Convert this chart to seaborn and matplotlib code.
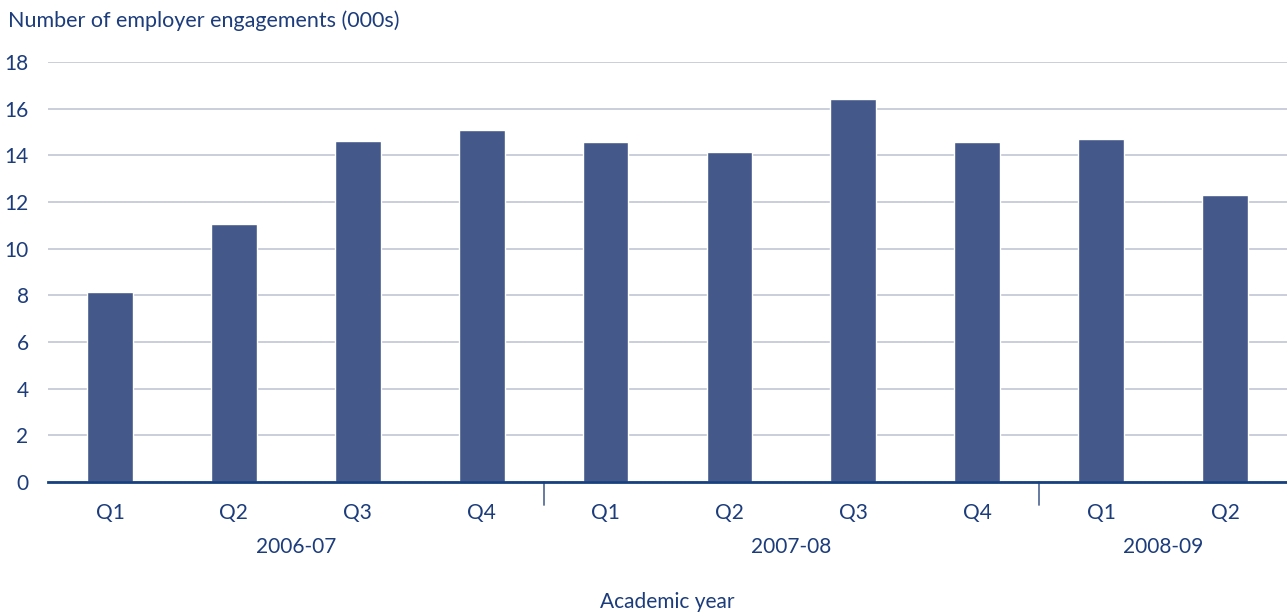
import matplotlib
matplotlib.use("Agg")
import matplotlib.pyplot as plt
import seaborn as sns
import pandas as pd

# Quarterly employer engagements (thousands) by academic year
years = ["2006-07", "2007-08", "2008-09"]
quarters = ["Q1", "Q2", "Q3", "Q4", "Q1", "Q2", "Q3", "Q4", "Q1", "Q2"]
year_of_bar = ["2006-07"] * 4 + ["2007-08"] * 4 + ["2008-09"] * 2
engagements = [8.15, 11.05, 14.6, 15.1, 14.55, 14.15, 16.43, 14.55, 14.68, 12.3]
y_ticks = [0, 2, 4, 6, 8, 10, 12, 14, 16, 18]

BAR = "#44588a"
TEXT = "#1c3c7c"
AXIS = "#17407f"
GRID = "#c6c9d8"

sns.set_theme(style="white")
plt.rcParams["font.family"] = ["Lato", "DejaVu Sans"]

df = pd.DataFrame({
    "period": [f"{y} {q}" for y, q in zip(year_of_bar, quarters)],
    "quarter": quarters,
    "year": year_of_bar,
    "value": engagements,
})

fig = plt.figure(figsize=(12.87, 6.12), dpi=100)
ax = fig.add_axes([0.0373, 0.2124, 0.9627, 0.6863])

sns.barplot(data=df, x="period", y="value", order=list(df["period"]),
            color=BAR, saturation=1, width=0.37, ax=ax, zorder=3)

ax.set_ylim(0, 18)
ax.set_xlim(-0.5, len(df) - 0.5)
ax.set_yticks(y_ticks)
ax.set_yticklabels([str(t) for t in y_ticks], color=TEXT, fontsize=15)
ax.yaxis.grid(True, color=GRID, linewidth=1.3, zorder=0)
ax.set_axisbelow(True)

ax.set_xticks(range(len(df)))
ax.set_xticklabels(quarters, color=TEXT, fontsize=15)
ax.tick_params(axis="x", length=0, pad=15)
ax.tick_params(axis="y", length=0, pad=14)

for side in ["left", "right", "top"]:
    ax.spines[side].set_visible(False)
ax.spines["bottom"].set_color(AXIS)
ax.spines["bottom"].set_linewidth(2)
ax.spines["bottom"].set_zorder(4)

ax.set_xlabel("")
ax.set_ylabel("")

# Year group labels and separators
trans = ax.get_xaxis_transform()
positions = list(range(len(df)))
for yr in years:
    idx = [p for p, y in zip(positions, year_of_bar) if y == yr]
    center = (idx[0] + idx[-1]) / 2
    ax.text(center, -0.155, yr, transform=trans, ha="center", va="center",
            color=TEXT, fontsize=15)
    if idx[-1] < len(df) - 1:
        ax.plot([idx[-1] + 0.5] * 2, [0, -0.055], transform=trans, color="#5a6f9a",
                linewidth=1.3, clip_on=False)

ax.text(0.5, -0.285, "Academic year", transform=ax.transAxes, ha="center",
        va="center", color=TEXT, fontsize=15)
fig.text(0.006, 0.966, "Number of employer engagements (000s)", ha="left",
         va="center", color=TEXT, fontsize=15.5)

fig.savefig("out.png", dpi=100, facecolor="white")
